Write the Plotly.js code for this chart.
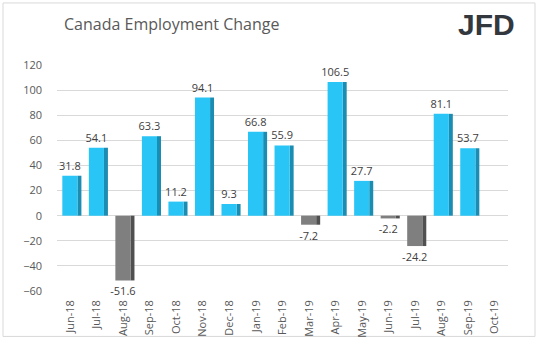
<!DOCTYPE html>
<html><head><meta charset="utf-8">
<script src="https://cdn.plot.ly/plotly-3.0.1.min.js"></script>
<style>body{margin:0;background:#fff}#c{width:540px;height:354px}</style>
</head><body><div id="c"></div>
<script>
var months = ["Jun-18","Jul-18","Aug-18","Sep-18","Oct-18","Nov-18","Dec-18","Jan-19","Feb-19","Mar-19","Apr-19","May-19","Jun-19","Jul-19","Aug-19","Sep-19","Oct-19"];
var changes = [31.8,54.1,-51.6,63.3,11.2,94.1,9.3,66.8,55.9,-7.2,106.5,27.7,-2.2,-24.2,81.1,53.7,null];
var yTicks = [-60,-40,-20,0,20,40,60,80,100,120];

var front = changes.map(function(v){return v===null?null:(v>=0?"#29C5F6":"#7F7F7F");});
var side = changes.map(function(v){return v===null?null:(v>=0?"#1B8DB2":"#505050");});
var labels = changes.map(function(v){return v===null?"":v.toFixed(1);});

var traces = [
 {type:"bar", x:months, y:changes, width:0.15, offset:0.27,
  marker:{color:side, line:{width:0}}, hoverinfo:"skip", showlegend:false},
 {type:"bar", x:months, y:changes, width:0.57, offset:-0.30,
  marker:{color:front, line:{width:0}}, text:labels, textposition:"outside", constraintext:"none",
  textfont:{family:"Open Sans, sans-serif", size:11, color:"#404040"},
  cliponaxis:false, showlegend:false}
];
var layout = {
 width:540, height:354, barmode:"overlay",
 paper_bgcolor:"#fff", plot_bgcolor:"#fff",
 margin:{l:57,r:32,t:65,b:63},
 font:{family:"Open Sans, sans-serif", color:"#595959"},
 xaxis:{type:"category", range:[-0.5,16.5], tickangle:-90, showgrid:false, zeroline:false,
   showline:false, ticks:"", tickfont:{size:11,color:"#595959"}, ticklabelstandoff:6},
 yaxis:{range:[-60,120], tickvals:yTicks, showgrid:true, gridcolor:"#D9D9D9", gridwidth:1,
   zeroline:false, showline:false, ticks:"", tickfont:{size:11,color:"#595959"}, ticklabelstandoff:14},
 annotations:[
  {xref:"paper",yref:"paper",x:0.01,y:1.18,xanchor:"left",yanchor:"middle",showarrow:false,
   text:"Canada Employment Change", font:{size:16,color:"#595959"}},
  {xref:"paper",yref:"paper",x:1.02,y:1.18,xanchor:"right",yanchor:"middle",showarrow:false,
   text:"<b>JFD</b>", font:{family:"Liberation Sans, sans-serif",size:30,color:"#33383E"}}
 ],
 shapes:[{type:"rect",xref:"paper",yref:"paper",x0:-0.1197,x1:1.0599,y0:-0.201,y1:1.2745,
   line:{color:"#D9D9D9",width:1},fillcolor:"rgba(0,0,0,0)",layer:"below"}]
};
Plotly.newPlot("c", traces, layout, {displayModeBar:false, staticPlot:true});
</script></body></html>
